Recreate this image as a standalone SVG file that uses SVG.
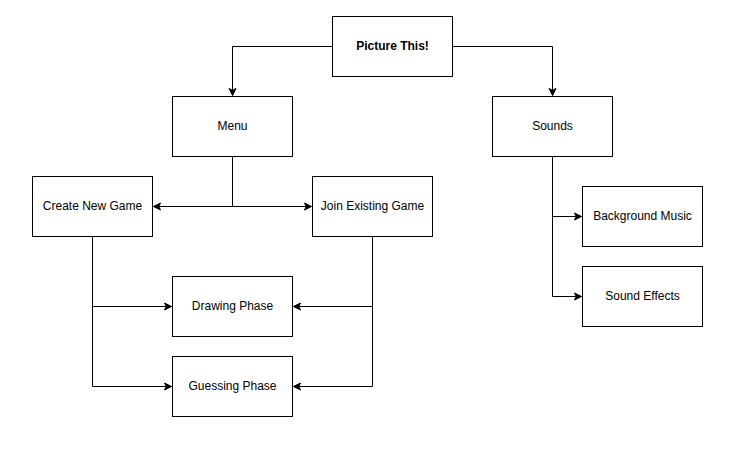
<svg xmlns="http://www.w3.org/2000/svg" width="746" height="457" viewBox="0 0 746 457">
<style>
.box{fill:#fff;stroke:#000;stroke-width:1}
.lbl{font-family:"Liberation Sans",Arial,sans-serif;font-size:12px;fill:#000;text-anchor:middle}
.b{font-weight:bold}
.c{fill:none;stroke:#000;stroke-width:1}
</style>
<defs>
<marker id="arr" markerUnits="userSpaceOnUse" markerWidth="10" markerHeight="10" viewBox="-8 -5 10 10" refX="0" refY="0" orient="auto">
<path d="M0,0 L-7,-3.5 L-5.25,0 L-7,3.5 Z" fill="#000" stroke="#000" stroke-width="1"/>
</marker>
</defs>
<rect width="746" height="457" fill="#fff"/>
<g transform="translate(0.5,0.5)">
<g id="connectors">
<path class="c" d="M332,46 H232 V95" marker-end="url(#arr)"/>
<path class="c" d="M452,46 H552 V95" marker-end="url(#arr)"/>
<path class="c" d="M232,156 V206 H153" marker-end="url(#arr)"/>
<path class="c" d="M232,206 H311" marker-end="url(#arr)"/>
<path class="c" d="M92,236 V306 H171" marker-end="url(#arr)"/>
<path class="c" d="M92,306 V386 H171" marker-end="url(#arr)"/>
<path class="c" d="M372,236 V306 H293" marker-end="url(#arr)"/>
<path class="c" d="M372,306 V386 H293" marker-end="url(#arr)"/>
<path class="c" d="M552,156 V216 H581" marker-end="url(#arr)"/>
<path class="c" d="M552,216 V296 H581" marker-end="url(#arr)"/>
</g>
<g id="picture-this"><rect class="box" x="332" y="16" width="120" height="60"/><text class="lbl b" x="392" y="49">Picture This!</text></g>
<g id="menu"><rect class="box" x="172" y="96" width="120" height="60"/><text class="lbl" x="232" y="129">Menu</text></g>
<g id="sounds"><rect class="box" x="492" y="96" width="120" height="60"/><text class="lbl" x="552" y="129">Sounds</text></g>
<g id="create-new-game"><rect class="box" x="32" y="176" width="120" height="60"/><text class="lbl" x="92" y="209">Create New Game</text></g>
<g id="join-existing-game"><rect class="box" x="312" y="176" width="120" height="60"/><text class="lbl" x="372" y="209">Join Existing Game</text></g>
<g id="drawing-phase"><rect class="box" x="172" y="276" width="120" height="60"/><text class="lbl" x="232" y="309">Drawing Phase</text></g>
<g id="guessing-phase"><rect class="box" x="172" y="356" width="120" height="60"/><text class="lbl" x="232" y="389">Guessing Phase</text></g>
<g id="background-music"><rect class="box" x="582" y="186" width="120" height="60"/><text class="lbl" x="642" y="219">Background Music</text></g>
<g id="sound-effects"><rect class="box" x="582" y="266" width="120" height="60"/><text class="lbl" x="642" y="299">Sound Effects</text></g>
</g>
</svg>
